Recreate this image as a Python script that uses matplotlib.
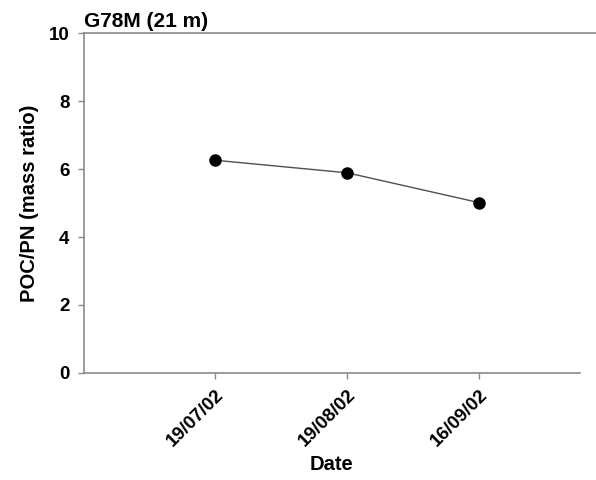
import numpy as np
import matplotlib
matplotlib.use('Agg')
import matplotlib.pyplot as plt

plt.rcParams['font.family'] = ['Liberation Sans', 'DejaVu Sans']
plt.rcParams['font.weight'] = 'bold'

dates = ['19/07/02', '19/08/02', '16/09/02']
ratio = [6.26, 5.89, 5.01]
x = np.arange(1, len(dates) + 1)

fig = plt.figure(figsize=(5.96, 4.8), dpi=100)
ax = fig.add_axes([0.141, 0.223, 0.832, 0.708])

ax.plot(x, ratio, '-', color='#505050', lw=1.0, zorder=2)
ax.plot(x, ratio, 'o', color='black', ms=8, zorder=3)

ax.set_xlim(0.01, 3.76)
ax.set_ylim(0, 10)
ax.set_yticks([0, 2, 4, 6, 8, 10])
ax.set_xticks(x)
ax.set_xticklabels(dates, rotation=45, ha='right', rotation_mode='anchor')

for s in ['right', 'top']:
    ax.spines[s].set_visible(False)
for s in ['left', 'bottom']:
    ax.spines[s].set_color('#8a8a8a')
    ax.spines[s].set_linewidth(1.2)
# top border line runs on to the image edge
ax.axhline(10, xmin=0, xmax=(596 - 84) / (580 - 84), color='#8a8a8a', lw=1.2, clip_on=False)

ax.tick_params(axis='both', direction='out', length=4.5, width=1, color='#8a8a8a',
               labelsize=13.5)
ax.tick_params(axis='y', pad=6)
ax.tick_params(axis='x', pad=5)

ax.set_xlabel('Date', fontsize=14.5, fontweight='bold', labelpad=4)
ax.set_ylabel('POC/PN (mass ratio)', fontsize=14.5, fontweight='bold', labelpad=7)
ax.text(0.0, 1.005, 'G78M (21 m)', transform=ax.transAxes, fontsize=15,
        fontweight='bold', ha='left', va='bottom')

fig.savefig('out.png', dpi=100)
